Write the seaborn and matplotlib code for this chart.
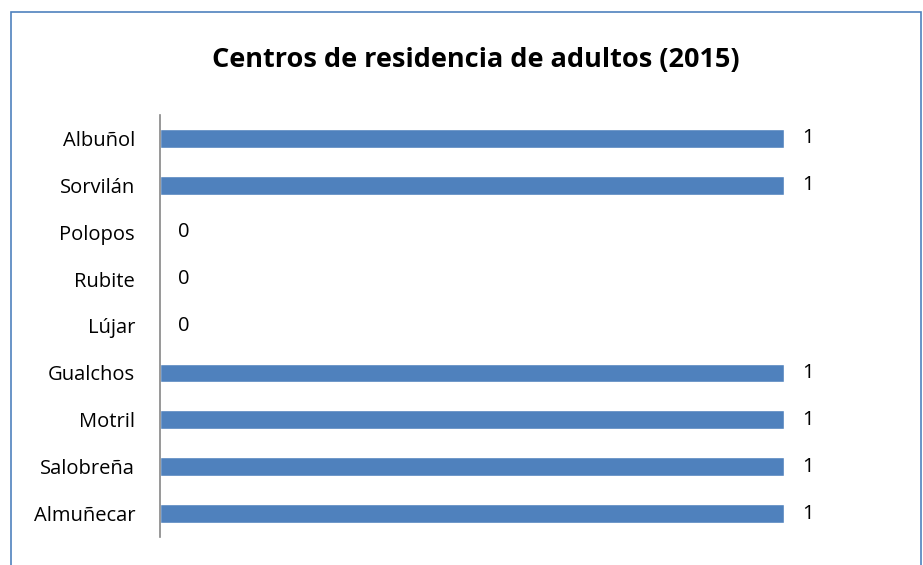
import matplotlib
matplotlib.use("Agg")
import matplotlib.pyplot as plt
import seaborn as sns
import pandas as pd
from matplotlib.patches import Rectangle

municipios = ["Albuñol", "Sorvilán", "Polopos", "Rubite", "Lújar",
              "Gualchos", "Motril", "Salobreña", "Almuñecar"]
centros = [1, 1, 0, 0, 0, 1, 1, 1, 1]

sns.set_style("white")
plt.rcParams["font.family"] = ["Open Sans", "DejaVu Sans"]

df = pd.DataFrame({"municipio": municipios, "centros": centros})

fig = plt.figure(figsize=(9.23, 5.65), dpi=100)
W, H = 923, 565
ax = fig.add_axes([160 / W, 1 - 537 / H, (784 - 160) / W, (537 - 115) / H])

sns.barplot(data=df, x="centros", y="municipio", order=municipios,
            color="#4F81BD", saturation=1, width=0.4, ax=ax)
ax.set_xlim(0, 1)
ax.set_xlabel("")
ax.set_ylabel("")
ax.set_xticks([])
ax.tick_params(axis="y", length=0, pad=18, labelsize=14.5, labelcolor="#000000")
for s in ["top", "right", "bottom"]:
    ax.spines[s].set_visible(False)
ax.spines["left"].set_color("#868686")
ax.spines["left"].set_linewidth(1.2)

ax.bar_label(ax.containers[0], labels=[str(v) for v in centros],
             padding=13, fontsize=14.5, color="#000000")

fig.text(476 / W, 1 - 60 / H, "Centros de residencia de adultos (2015)",
         ha="center", va="center", fontsize=19.5, fontweight="bold",
         color="#000000")

# chart border
fig.patches.append(Rectangle((11 / W, -0.05), (921 - 11) / W, 1.05 - 12 / H,
                             transform=fig.transFigure, fill=False,
                             edgecolor="#4F81BD", linewidth=1.2))

fig.savefig("out.png", dpi=100)
